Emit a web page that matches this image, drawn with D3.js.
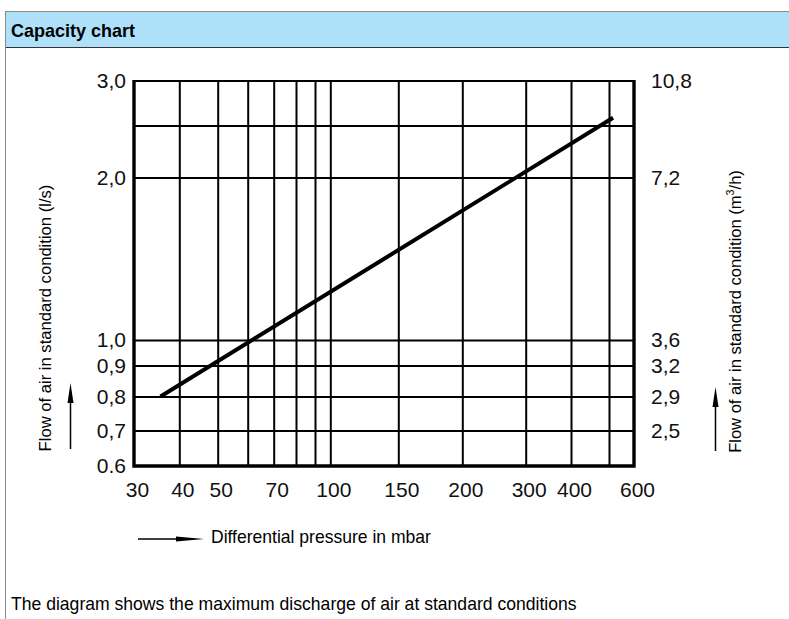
<!DOCTYPE html>
<html>
<head>
<meta charset="utf-8">
<script src="https://cdn.jsdelivr.net/npm/d3@7"></script>
<style>
  body { margin: 0; background: #fff; }
  svg { display: block; font-family: "Liberation Sans", Arial, sans-serif; }
</style>
</head>
<body>
<svg id="chart" width="789" height="619"></svg>
<script>
// values
var pressureGrid = [30, 40, 50, 60, 70, 80, 90, 100, 150, 200, 300, 400, 500, 600];
var pressureLabels = [30, 40, 50, 70, 100, 150, 200, 300, 400, 600];
var flowGrid = [0.6, 0.7, 0.8, 0.9, 1.0, 2.0, 2.5, 3.0];
var flowLabelValues = [0.6, 0.7, 0.8, 0.9, 1.0, 2.0, 3.0];
var flowLabelsLs = ["0.6", "0,7", "0,8", "0,9", "1,0", "2,0", "3,0"];
var flowLabelsM3h = ["", "2,5", "2,9", "3,2", "3,6", "7,2", "10,8"];
var curvePressure = [35.5, 515];
var curveFlow = [0.8, 2.58];

// layout
var plot = { left: 134, right: 634, top: 81, bottom: 466 },
    plotW = plot.right - plot.left;
// the printed pressure axis is not quite logarithmic, so the stops are measured
var xStops = [0, 45.3, 83.7, 113.7, 139.7, 162, 181, 196.3, 264.3, 328.3, 391.7, 437, 475, 500];
var yStops = [466, 430.5, 396.5, 365.5, 340, 177.5, 125.5, 81];

var svg = d3.select("#chart");

var x = d3.scaleLog()
    .domain(pressureGrid)
    .range(xStops.map(function (d) { return plot.left + d; }));

var y = d3.scaleLog()
    .domain(flowGrid)
    .range(yStops);

// header band
svg.append("rect")
    .attr("x", 5.5).attr("y", 11.5)
    .attr("width", 800).attr("height", 36)
    .attr("fill", "#aee0fa")
    .attr("stroke", "#8a8a8a");
svg.append("line")
    .attr("x1", 5).attr("x2", 789).attr("y1", 47.5).attr("y2", 47.5)
    .attr("stroke", "#333").attr("stroke-width", 1.2);
svg.append("line")
    .attr("x1", 5.5).attr("x2", 5.5).attr("y1", 47).attr("y2", 619)
    .attr("stroke", "#8a8a8a");

function fitText(sel, width, tx, ty, rot) {
    var s = width / sel.node().getComputedTextLength();
    sel.attr("transform", "translate(" + tx + "," + ty + ")" + (rot ? " rotate(" + rot + ")" : "") + " scale(" + s + ",1)");
}

var title = svg.append("text")
    .attr("font-size", 19).attr("font-weight", "bold").attr("fill", "#000")
    .text("Capacity chart");
fitText(title, 124, 11, 37);

// grid
svg.append("g")
    .attr("transform", "translate(0," + plot.bottom + ")")
    .call(d3.axisBottom(x).tickValues(pressureGrid.slice(1, -1))
        .tickSize(-(plot.bottom - plot.top)).tickFormat(""))
    .call(function (g) { g.select(".domain").remove(); })
    .selectAll("line").attr("stroke", "#000").attr("stroke-width", 2);

svg.append("g")
    .attr("transform", "translate(" + plot.left + ",0)")
    .call(d3.axisLeft(y).tickValues(flowGrid.slice(1, -1))
        .tickSize(-plotW).tickFormat(""))
    .call(function (g) { g.select(".domain").remove(); })
    .selectAll("line").attr("stroke", "#000").attr("stroke-width", 2);

// frame
svg.append("line")
    .attr("x1", plot.left).attr("x2", plot.right).attr("y1", plot.top).attr("y2", plot.top)
    .attr("stroke", "#000").attr("stroke-width", 2);
svg.append("path")
    .attr("d", "M" + plot.left + "," + (plot.top - 1) + "V" + plot.bottom + "H" + plot.right + "V" + (plot.top - 1))
    .attr("fill", "none").attr("stroke", "#000").attr("stroke-width", 3.4);

// tick labels
function styleLabels(g) {
    g.select(".domain").remove();
    g.attr("font-size", 21).attr("font-family", "\"Liberation Sans\", Arial, sans-serif");
    g.selectAll("text").attr("fill", "#111");
}

svg.append("g")
    .attr("transform", "translate(" + plot.left + ",0)")
    .call(d3.axisLeft(y).tickValues(flowLabelValues)
        .tickSize(0).tickPadding(8)
        .tickFormat(function (d, i) { return flowLabelsLs[i]; }))
    .call(styleLabels);

svg.append("g")
    .attr("transform", "translate(" + plot.right + ",0)")
    .call(d3.axisRight(y).tickValues(flowLabelValues)
        .tickSize(0).tickPadding(17)
        .tickFormat(function (d, i) { return flowLabelsM3h[i]; }))
    .call(styleLabels);

svg.append("g")
    .attr("transform", "translate(0," + plot.bottom + ")")
    .call(d3.axisBottom(x).tickValues(pressureLabels)
        .tickSize(0).tickPadding(16)
        .tickFormat(d3.format("d")))
    .call(styleLabels)
    .selectAll("text").attr("dx", 3);

// capacity line
var line = d3.line()
    .x(function (d) { return x(d[0]); })
    .y(function (d) { return y(d[1]); });

svg.append("path")
    .datum(d3.zip(curvePressure, curveFlow))
    .attr("d", line)
    .attr("fill", "none")
    .attr("stroke", "#000")
    .attr("stroke-width", 4);

// axis titles and arrows
function arrow(x1, y1, x2, y2, headLen, headW) {
    var dx = x2 - x1, dy = y2 - y1, len = Math.sqrt(dx * dx + dy * dy),
        ux = dx / len, uy = dy / len,
        bx = x2 - ux * headLen, by = y2 - uy * headLen;
    svg.append("line")
        .attr("x1", x1).attr("y1", y1).attr("x2", bx).attr("y2", by)
        .attr("stroke", "#000").attr("stroke-width", 1.5);
    svg.append("path")
        .attr("d", "M" + x2 + "," + y2 +
            "L" + (bx - uy * headW) + "," + (by + ux * headW) +
            "L" + (bx + uy * headW) + "," + (by - ux * headW) + "Z")
        .attr("fill", "#000");
}

var leftTitle = svg.append("text")
    .attr("font-size", 17).attr("text-anchor", "middle").attr("fill", "#000")
    .text("Flow of air in standard condition (l/s)");
fitText(leftTitle, 267, 51, 318, -90);
arrow(70.5, 449, 70.5, 383, 20, 3);

var rightTitle = svg.append("text")
    .attr("font-size", 17).attr("text-anchor", "middle").attr("fill", "#000");
rightTitle.append("tspan").text("Flow of air in standard condition (m");
rightTitle.append("tspan").attr("font-size", 11).attr("dy", -7).text("3");
rightTitle.append("tspan").attr("dy", 7).text("/h)");
fitText(rightTitle, 283, 741, 311.5, -90);
arrow(715.5, 451, 715.5, 387, 20, 3);

arrow(138, 539, 204, 539, 28, 2.6);
var xTitle = svg.append("text")
    .attr("font-size", 18).attr("fill", "#000")
    .text("Differential pressure in mbar");
fitText(xTitle, 220, 211, 543);

var note = svg.append("text")
    .attr("font-size", 18).attr("fill", "#000")
    .text("The diagram shows the maximum discharge of air at standard conditions");
fitText(note, 566, 11, 610);
</script>
</body>
</html>
